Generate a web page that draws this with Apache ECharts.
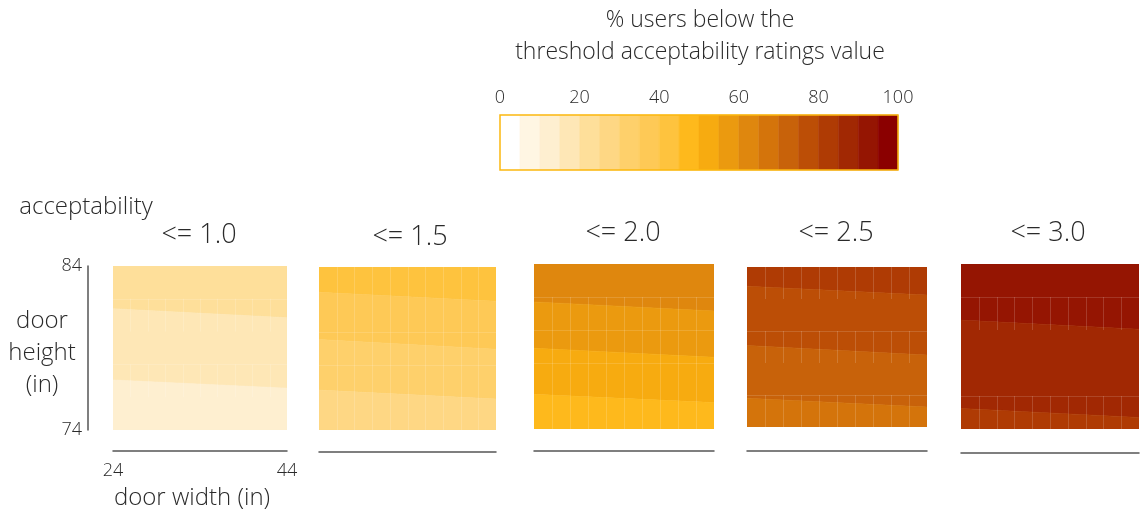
<!DOCTYPE html>
<html>
<head>
<meta charset="utf-8">
<script src="https://cdn.jsdelivr.net/npm/echarts@6/dist/echarts.min.js"></script>
<style>
  html, body { margin: 0; padding: 0; background: #fff; }
  #chart { width: 1143px; height: 514px; }
</style>
</head>
<body>
<div id="chart"></div>
<script>
// ---- data ----
const thresholds = ['<= 1.0', '<= 1.5', '<= 2.0', '<= 2.5', '<= 3.0'];
const widthRange = [24, 44];
const heightRange = [74, 84];
const widthTicks = [24, 44];
const heightTicks = [74, 84];
const legendTicks = [0, 20, 40, 60, 80, 100];
const legendColors = [
  '#ffffff', '#fff6e3', '#feefd0', '#fee7b6', '#fedf9a',
  '#fed784', '#fed06b', '#fec956', '#fec33e', '#feb91c',
  '#f7ab10', '#eb9a0f', '#df870e', '#d4740b', '#c8620a',
  '#bc4e06', '#af3b04', '#a12803', '#951502', '#8b0000'
];
// band boundaries (door height, in) at the left edge (width 24) and right edge (width 44), top to bottom
const p1Left = [81.4, 77.05], p1Right = [80.85, 76.55], p1Values = [22.5, 17.5, 12.5];
const p2Left = [82.45, 79.55, 76.45], p2Right = [81.9, 78.95, 75.9], p2Values = [42.5, 37.5, 32.5, 27.5];
const p3Left = [81.7, 78.9, 76.1], p3Right = [81.15, 78.35, 75.6], p3Values = [62.5, 57.5, 52.5, 47.5];
const p4Left = [82.8, 79.1, 75.8], p4Right = [82.25, 78.5, 75.25], p4Values = [82.5, 77.5, 72.5, 67.5];
const p5Left = [80.6, 75.25], p5Right = [80.05, 74.7], p5Values = [92.5, 87.5, 82.5];
const tileSize = 2; // contour tiles, inches

const panels = [
  { L: p1Left, R: p1Right, V: p1Values },
  { L: p2Left, R: p2Right, V: p2Values },
  { L: p3Left, R: p3Right, V: p3Values },
  { L: p4Left, R: p4Right, V: p4Values },
  { L: p5Left, R: p5Right, V: p5Values }
];

// ---- layout ----
const grids = [
  { left: 113, top: 266, width: 174, height: 164, off: 21, tx: 199, ty: 235 },
  { left: 319, top: 267, width: 177, height: 163, off: 22, tx: 410, ty: 237 },
  { left: 534, top: 264, width: 180, height: 165, off: 22, tx: 623, ty: 233 },
  { left: 747, top: 267, width: 180, height: 160, off: 24, tx: 836, ty: 233 },
  { left: 961, top: 264, width: 178, height: 165, off: 24, tx: 1048, ty: 233 }
];
const FONT = '"Open Sans", Lato, sans-serif';
const TXT = '#2a2a2a';

function colorFor(v) {
  const i = Math.min(legendColors.length - 1, Math.max(0, Math.floor(v / 5)));
  return legendColors[i];
}

function bandRows(p) {
  const rows = [];
  const n = p.V.length;
  for (let i = 0; i < n; i++) {
    const up = i === 0 ? [heightRange[1], heightRange[1]] : [p.L[i - 1], p.R[i - 1]];
    const lo = i === n - 1 ? [heightRange[0], heightRange[0]] : [p.L[i], p.R[i]];
    rows.push([widthRange[0], widthRange[1], lo[0], lo[1], up[0], up[1], p.V[i]]);
  }
  return rows;
}

function renderBand(params, api) {
  const xl = api.value(0), xr = api.value(1);
  const pts = [
    api.coord([xl, api.value(2)]),
    api.coord([xr, api.value(3)]),
    api.coord([xr, api.value(5)]),
    api.coord([xl, api.value(4)])
  ];
  const c = colorFor(api.value(6));
  return { type: 'polygon', shape: { points: pts }, style: { fill: c, stroke: c, lineWidth: 0.6 } };
}

// faint tile seams in the tile rows crossed by a contour boundary
function renderSeams(params, api) {
  const a = api.value(0), b = api.value(1);
  const lo = Math.max(heightRange[0], Math.floor(Math.min(a, b) / tileSize) * tileSize);
  const hi = Math.min(heightRange[1], Math.ceil(Math.max(a, b) / tileSize) * tileSize);
  const children = [];
  const st = { stroke: 'rgba(255,255,255,0.16)', lineWidth: 1 };
  for (let w = widthRange[0] + tileSize; w < widthRange[1]; w += tileSize) {
    const p0 = api.coord([w, lo]), p1 = api.coord([w, hi]);
    children.push({ type: 'line', shape: { x1: Math.round(p0[0]) + 0.5, y1: p0[1], x2: Math.round(p1[0]) + 0.5, y2: p1[1] }, style: st });
  }
  if (hi < heightRange[1]) {
    const q0 = api.coord([widthRange[0], hi]), q1 = api.coord([widthRange[1], hi]);
    children.push({ type: 'line', shape: { x1: q0[0], y1: Math.round(q0[1]) + 0.5, x2: q1[0], y2: Math.round(q1[1]) + 0.5 }, style: { stroke: 'rgba(255,255,255,0.14)', lineWidth: 1 } });
  }
  return { type: 'group', children: children };
}

const gridOpt = [], xAxes = [], yAxes = [], series = [], graphics = [];
grids.forEach((g, k) => {
  gridOpt.push({ left: g.left, top: g.top, width: g.width, height: g.height, containLabel: false });
  xAxes.push({
    gridIndex: k, type: 'value', min: widthRange[0], max: widthRange[1], interval: 4,
    offset: g.off,
    axisLine: { show: true, lineStyle: { color: '#555', width: 1.5 } },
    axisTick: { show: false }, splitLine: { show: false },
    axisLabel: k === 0 ? { show: true, customValues: widthTicks, color: TXT, fontSize: 18, fontFamily: FONT, fontWeight: 300, margin: 11 } : { show: false }
  });
  yAxes.push({
    gridIndex: k, type: 'value', min: heightRange[0], max: heightRange[1], interval: 2,
    offset: k === 0 ? 25 : 0,
    axisLine: { show: k === 0, lineStyle: { color: '#555', width: 1.5 } },
    axisTick: { show: false }, splitLine: { show: false },
    axisLabel: k === 0 ? { show: true, customValues: heightTicks, color: TXT, fontSize: 18, fontFamily: FONT, fontWeight: 300, margin: 6 } : { show: false }
  });
  series.push({
    type: 'custom', xAxisIndex: k, yAxisIndex: k, clip: true,
    renderItem: renderBand, data: bandRows(panels[k]), silent: true
  });
  series.push({
    type: 'custom', xAxisIndex: k, yAxisIndex: k, clip: true, z: 3,
    renderItem: renderSeams, data: panels[k].L.map((l, i) => [l, panels[k].R[i]]), silent: true
  });
  graphics.push({
    type: 'text', x: g.tx, y: g.ty,
    style: { text: thresholds[k], fontSize: 27, fontFamily: FONT, fontWeight: 300, fill: TXT, align: 'center', verticalAlign: 'middle' }
  });
});

// legend grid
const LG = gridOpt.length;
gridOpt.push({ left: 500, top: 115, width: 398, height: 55 });
xAxes.push({
  gridIndex: LG, type: 'value', min: 0, max: 100, interval: 20, position: 'top',
  axisLine: { show: false }, axisTick: { show: false }, splitLine: { show: false },
  axisLabel: { show: true, customValues: legendTicks, color: TXT, fontSize: 18, fontFamily: FONT, fontWeight: 300, margin: 8 }
});
yAxes.push({ gridIndex: LG, type: 'value', min: 0, max: 1, show: false });
series.push({
  type: 'custom', xAxisIndex: LG, yAxisIndex: LG, silent: true,
  data: legendColors.map((c, i) => [i * 5, (i + 1) * 5]),
  renderItem: function (params, api) {
    const a = api.coord([api.value(0), 1]);
    const b = api.coord([api.value(1), 0]);
    const c = legendColors[params.dataIndex];
    return { type: 'rect', shape: { x: a[0], y: a[1], width: b[0] - a[0], height: b[1] - a[1] }, style: { fill: c, stroke: c, lineWidth: 0.5 } };
  }
});
series.push({
  type: 'custom', xAxisIndex: LG, yAxisIndex: LG, silent: true, z: 5,
  data: [[legendTicks[0], legendTicks[legendTicks.length - 1]]],
  renderItem: function (params, api) {
    const a = api.coord([api.value(0), 1]);
    const b = api.coord([api.value(1), 0]);
    return { type: 'rect', shape: { x: a[0], y: a[1], width: b[0] - a[0], height: b[1] - a[1] }, style: { fill: 'none', stroke: '#fbb80f', lineWidth: 1.5 } };
  }
});

// free texts
const textStyle = (t, x, y, size, align) => ({
  type: 'text', x: x, y: y,
  style: { text: t, fontSize: size, fontFamily: FONT, fontWeight: 300, fill: TXT, align: align || 'center', verticalAlign: 'middle' }
});
graphics.push(textStyle('% users below the', 700, 20, 23));
graphics.push(textStyle('threshold acceptability ratings value', 700, 52, 23));
graphics.push(textStyle('acceptability', 86, 207, 24));
graphics.push(textStyle('door', 42, 321, 24));
graphics.push(textStyle('height', 42, 353, 24));
graphics.push(textStyle('(in)', 42, 385, 24));
graphics.push(textStyle('door width (in)', 192, 498, 24));

const chart = echarts.init(document.getElementById('chart'), null, { renderer: 'canvas' });
chart.setOption({
  animation: false,
  backgroundColor: '#ffffff',
  grid: gridOpt,
  xAxis: xAxes,
  yAxis: yAxes,
  series: series,
  graphic: graphics
});
</script>
</body>
</html>
